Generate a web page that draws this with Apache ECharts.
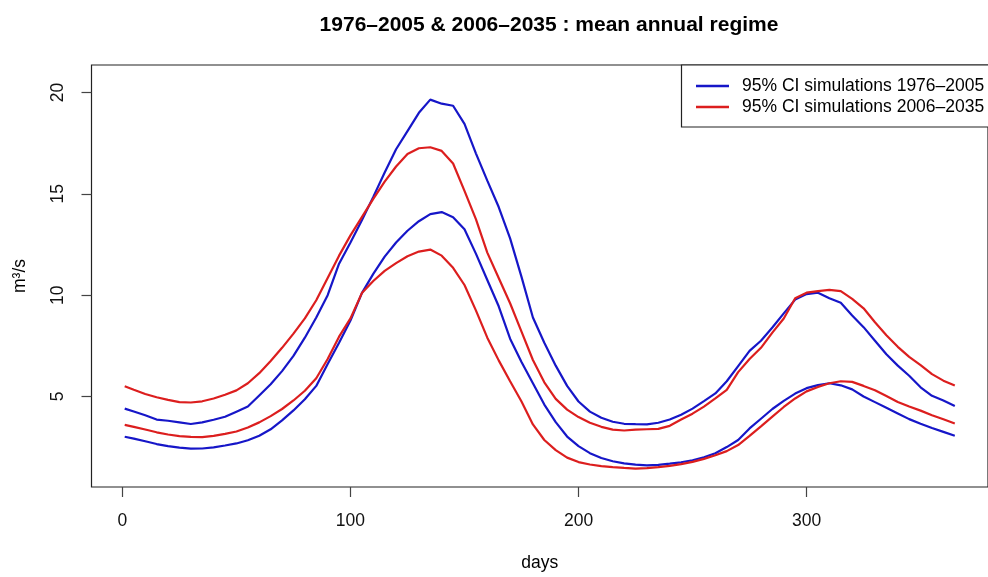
<!DOCTYPE html>
<html>
<head>
<meta charset="utf-8">
<script src="https://cdn.jsdelivr.net/npm/echarts@6/dist/echarts.min.js"></script>
<style>
  html, body { margin: 0; padding: 0; background: #fff; }
  #chart { width: 988px; height: 577px; }
</style>
</head>
<body>
<div id="chart"></div>
<script>
// Day of year at which each band limit is given
const days = [1, 5, 10, 15, 20, 25, 30, 35, 40, 45, 50, 55, 60, 65, 70, 75, 80, 85, 90, 95,
  100, 105, 110, 115, 120, 125, 130, 135, 140, 145, 150, 155, 160, 165, 170, 175, 180, 185, 190, 195,
  200, 205, 210, 215, 220, 225, 230, 235, 240, 245, 250, 255, 260, 265, 270, 275, 280, 285, 290, 295,
  300, 305, 310, 315, 320, 325, 330, 335, 340, 345, 350, 355, 360, 365];

// 1976–2005 simulations, upper and lower 95% CI limits (m³/s)
const upper19762005 = [4.40, 4.26, 4.07, 3.86, 3.80, 3.72, 3.64, 3.72, 3.85, 4.00, 4.25, 4.50, 5.05, 5.60, 6.25, 7.00, 7.90, 8.90, 10.0, 11.55,
  12.6, 13.7, 14.85, 16.05, 17.2, 18.1, 19.0, 19.65, 19.45, 19.35, 18.45, 17.0, 15.65, 14.35, 12.8, 10.9, 8.9, 7.65, 6.52, 5.52,
  4.75, 4.25, 3.95, 3.75, 3.65, 3.63, 3.62, 3.70, 3.86, 4.10, 4.40, 4.77, 5.15, 5.75, 6.50, 7.25, 7.75, 8.40, 9.10, 9.78,
  10.05, 10.12, 9.85, 9.62, 9.0, 8.42, 7.75, 7.08, 6.52, 6.02, 5.45, 5.03, 4.80, 4.53];
const lower19762005 = [3.01, 2.92, 2.79, 2.65, 2.55, 2.47, 2.42, 2.43, 2.49, 2.58, 2.68, 2.84, 3.06, 3.38, 3.82, 4.31, 4.86, 5.52, 6.6, 7.65,
  8.75, 10.1, 11.05, 11.9, 12.6, 13.18, 13.65, 14.0, 14.1, 13.85, 13.25, 12.05, 10.75, 9.45, 7.85, 6.7, 5.65, 4.6, 3.73, 3.02,
  2.55, 2.2, 1.96, 1.80, 1.70, 1.63, 1.60, 1.62, 1.68, 1.75, 1.85, 2.0, 2.2, 2.5, 2.85, 3.42, 3.9, 4.38, 4.78, 5.14,
  5.41, 5.56, 5.65, 5.55, 5.35, 5.0, 4.72, 4.44, 4.16, 3.88, 3.65, 3.44, 3.25, 3.06];

// 2006–2035 simulations, upper and lower 95% CI limits (m³/s)
const upper20062035 = [5.50, 5.33, 5.12, 4.96, 4.83, 4.72, 4.70, 4.76, 4.90, 5.08, 5.30, 5.65, 6.15, 6.75, 7.40, 8.10, 8.85, 9.75, 10.85, 11.95,
  12.95, 13.85, 14.75, 15.6, 16.35, 16.97, 17.25, 17.3, 17.12, 16.5, 15.15, 13.75, 12.1, 10.85, 9.6, 8.2, 6.8, 5.7, 4.88, 4.35,
  3.98, 3.70, 3.50, 3.36, 3.32, 3.36, 3.38, 3.40, 3.55, 3.86, 4.15, 4.50, 4.90, 5.32, 6.20, 6.85, 7.40, 8.15, 8.85, 9.85,
  10.12, 10.2, 10.26, 10.2, 9.82, 9.35, 8.66, 8.02, 7.45, 6.95, 6.55, 6.1, 5.78, 5.54];
const lower20062035 = [3.60, 3.50, 3.37, 3.23, 3.12, 3.04, 3.00, 2.99, 3.05, 3.15, 3.27, 3.47, 3.72, 4.03, 4.38, 4.80, 5.28, 5.9, 6.85, 7.95,
  8.85, 10.1, 10.7, 11.2, 11.58, 11.92, 12.15, 12.25, 11.95, 11.35, 10.5, 9.25, 7.9, 6.78, 5.75, 4.75, 3.62, 2.85, 2.35, 1.98,
  1.76, 1.64, 1.56, 1.51, 1.47, 1.44, 1.46, 1.51, 1.57, 1.66, 1.77, 1.92, 2.1, 2.3, 2.6, 3.05, 3.52, 4.0, 4.48, 4.9,
  5.25, 5.47, 5.65, 5.75, 5.72, 5.52, 5.31, 5.02, 4.73, 4.5, 4.3, 4.07, 3.87, 3.66];

const xTicks = [0, 100, 200, 300];
const yTicks = [5, 10, 15, 20];

const periodNames = ['95% CI simulations 1976\u20132005', '95% CI simulations 2006\u20132035'];
const periodColors = ['#1616c8', '#dc1e1e'];

const FONT = '"Liberation Sans", Arial, sans-serif';

function pairs(values) {
  return days.map((d, i) => [d, values[i]]);
}

function bandSeries(name, color, values) {
  return {
    name: name,
    type: 'line',
    data: pairs(values),
    showSymbol: false,
    symbol: 'none',
    smooth: false,
    color: color,
    lineStyle: { color: color, width: 2.2 },
    itemStyle: { color: color },
    emphasis: { disabled: true }
  };
}

const chart = echarts.init(document.getElementById('chart'), null, { renderer: 'canvas' });

chart.setOption({
  animation: false,
  backgroundColor: '#ffffff',
  title: {
    text: '1976\u20132005 & 2006\u20132035 : mean annual regime',
    left: 544,
    top: 10,
    textAlign: 'center',
    textStyle: { fontFamily: FONT, fontWeight: 'bold', fontSize: 21, color: '#000' }
  },
  grid: {
    left: 91.5,
    top: 65,
    right: -7.7,
    bottom: 84.7,
    show: true,
    borderColor: '#222',
    borderWidth: 1.2,
    backgroundColor: 'transparent'
  },
  legend: {
    data: periodNames,
    orient: 'vertical',
    left: 696,
    top: 77,
    itemWidth: 33,
    itemHeight: 2.4,
    itemGap: 3,
    icon: 'rect',
    padding: 0,
    selectedMode: false,
    textStyle: { fontFamily: FONT, fontSize: 17.5, color: '#000', padding: [0, 0, 0, 8], lineHeight: 17 }
  },
  graphic: [{
    type: 'rect',
    shape: { x: 681.5, y: 65, width: 330, height: 62 },
    style: { fill: '#fff', stroke: '#222', lineWidth: 1.2 },
    z: 1
  }],
  xAxis: {
    type: 'value',
    min: -13.56,
    max: 379.56,
    name: 'days',
    nameLocation: 'middle',
    nameGap: 67,
    nameTextStyle: { fontFamily: FONT, fontSize: 17.5, color: '#000' },
    axisLine: { show: false, onZero: false },
    splitLine: { show: false },
    axisTick: { show: true, length: 10, customValues: xTicks, lineStyle: { color: '#444', width: 1.2 } },
    axisLabel: { customValues: xTicks, margin: 25, fontFamily: FONT, fontSize: 17.5, color: '#111' }
  },
  yAxis: {
    type: 'value',
    min: 0.53,
    max: 21.36,
    name: 'm\u00b3/s',
    nameLocation: 'middle',
    nameRotate: 90,
    nameGap: 62,
    nameTextStyle: { fontFamily: FONT, fontSize: 17.5, color: '#000' },
    axisLine: { show: false, onZero: false },
    splitLine: { show: false },
    axisTick: { show: true, length: 10, customValues: yTicks, lineStyle: { color: '#444', width: 1.2 } },
    axisLabel: { customValues: yTicks, rotate: 90, margin: 24, fontFamily: FONT, fontSize: 17.5, color: '#111' }
  },
  series: [
    bandSeries(periodNames[0], periodColors[0], upper19762005),
    bandSeries(periodNames[0], periodColors[0], lower19762005),
    bandSeries(periodNames[1], periodColors[1], upper20062035),
    bandSeries(periodNames[1], periodColors[1], lower20062035)
  ]
});
</script>
</body>
</html>
